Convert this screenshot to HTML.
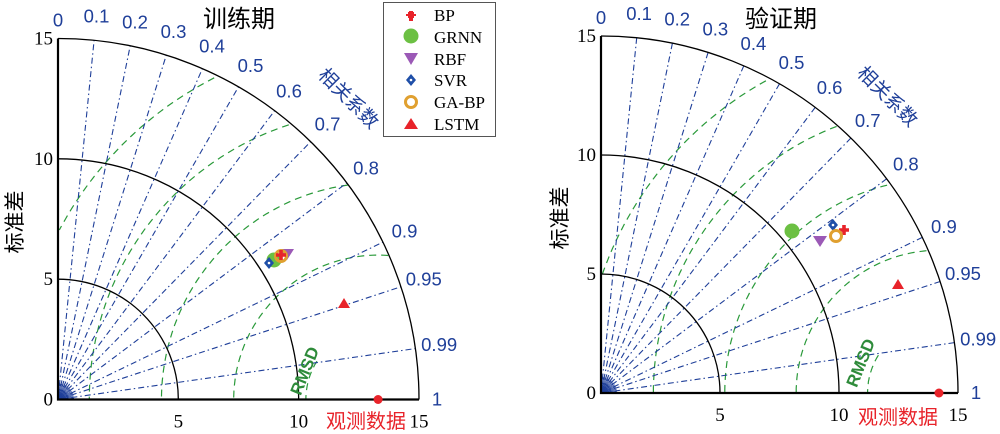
<!DOCTYPE html>
<html><head><meta charset="utf-8">
<style>
html,body{margin:0;padding:0;background:#fff;}
svg{display:block;}
text{font-family:"Liberation Serif","Noto Serif CJK SC",serif;}
.cl{font-family:"Liberation Sans",sans-serif;fill:#1f3f99;font-size:18.5px;}
.cj{font-family:"Liberation Sans","Noto Sans CJK SC",sans-serif;}
.rm{font-family:"Liberation Sans",sans-serif;font-weight:bold;fill:#2e8b3a;font-size:17px;}
</style></head>
<body>
<svg id="s" width="1000" height="434" viewBox="0 0 1000 434" xmlns="http://www.w3.org/2000/svg">
<rect width="1000" height="434" fill="#fff"/>
<g id="g"></g>
<!-- legend -->
<rect x="383.5" y="2.5" width="112" height="134" fill="#fff" stroke="#555" stroke-width="1"/>
<g font-size="17" fill="#000">
<text x="434" y="21">BP</text>
<text x="434" y="43">GRNN</text>
<text x="434" y="65">RBF</text>
<text x="434" y="86">SVR</text>
<text x="434" y="108">GA-BP</text>
<text x="434" y="130">LSTM</text>
</g>
<path d="M408 12h6v6h-6z M406 14h10v2h-10z M409 11h4v10h-4z" fill="#e8232a"/>
<circle cx="411" cy="36" r="7.5" fill="#6cc043"/>
<path d="M404 53h14l-7 12z" fill="#9b59b6"/>
<path d="M411 74l5 6-5 6-5-6z" fill="#1f4fa8"/><circle cx="411" cy="80" r="1.3" fill="#fff"/>
<circle cx="411" cy="102" r="5.5" fill="none" stroke="#e0a030" stroke-width="3"/>
<path d="M411 118l7 11h-14z" fill="#e8232a"/>
<!-- titles -->
<text x="239" y="27" font-size="24" text-anchor="middle" class="cj">训练期</text>
<text x="781" y="27" font-size="24" text-anchor="middle" class="cj">验证期</text>
<text class="cj" font-size="21" transform="translate(22,222) rotate(-90)" text-anchor="middle">标准差</text>
<text class="cj" font-size="21" transform="translate(567,218) rotate(-90)" text-anchor="middle">标准差</text>
<text class="cj" font-size="19" fill="#1f3f99" transform="translate(344,103) rotate(45)" text-anchor="middle">相关系数</text>
<text class="cj" font-size="19" fill="#1f3f99" transform="translate(883,101) rotate(45)" text-anchor="middle">相关系数</text>
<text class="cj" font-size="20" fill="#e8232a" x="326" y="428">观测数据</text>
<text class="cj" font-size="20" fill="#e8232a" x="858" y="424">观测数据</text>
<text class="rm" transform="translate(310,373) rotate(-68)" text-anchor="middle">RMSD</text>
<text class="rm" transform="translate(866,365) rotate(-68)" text-anchor="middle">RMSD</text>
</svg>
<script>
(function(){
var NS="http://www.w3.org/2000/svg",G=document.getElementById('g');
function el(t,a,txt){var e=document.createElementNS(NS,t);for(var k in a)e.setAttribute(k,a[k]);if(txt!=null)e.textContent=txt;G.appendChild(e);return e;}
function chart(ox,oy,R,obs,pts,lstm){
 var s=R/15;
 var ox2=ox+obs*s;
 [3,6,9,12,15].forEach(function(r){
  var rp=r*s,d="",first=true;
  var a0=(r==3)?148:0;
  for(var a=a0;a<=180;a+=1){
   var x=ox2+rp*Math.cos(a*Math.PI/180),y=oy-rp*Math.sin(a*Math.PI/180);
   var dx=x-ox,dy=oy-y;
   if(dx<0||Math.hypot(dx,dy)>R){first=true;continue;}
   d+=(first?"M":"L")+x.toFixed(1)+" "+y.toFixed(1)+" ";first=false;
  }
  el('path',{d:d,fill:'none',stroke:'#2a9a3a','stroke-width':1.2,'stroke-dasharray':'7,5'});
 });
 var cs=[0.1,0.2,0.3,0.4,0.5,0.6,0.7,0.8,0.9,0.95,0.99];
 cs.forEach(function(c){var t=Math.acos(c);
  el('line',{x1:ox,y1:oy,x2:ox+R*Math.cos(t),y2:oy-R*Math.sin(t),stroke:'#1f3f99','stroke-width':1.1,'stroke-dasharray':'6,3,1.5,3'});});
 for(var k=0;k<20;k++){var t=k*Math.PI/40;el('line',{x1:ox,y1:oy,x2:ox+16*Math.cos(t),y2:oy-16*Math.sin(t),stroke:'#1f3f99','stroke-width':0.7});}
 [3,5,7].forEach(function(r){el('path',{d:"M"+(ox+r)+" "+oy+" A"+r+" "+r+" 0 0 0 "+ox+" "+(oy-r),fill:'none',stroke:'#1f3f99','stroke-width':1});});
 var lab=["0","0.1","0.2","0.3","0.4","0.5","0.6","0.7","0.8","0.9","0.95","0.99","1"],vals=[0,.1,.2,.3,.4,.5,.6,.7,.8,.9,.95,.99,1];
 vals.forEach(function(c,i){var t=Math.acos(c),rr=R+18+(i>0&&i<12?6:0);
  var x=ox+rr*Math.cos(t),y=oy-rr*Math.sin(t)+6;
  el('text',{x:x,y:y,'class':'cl','text-anchor':'middle'},lab[i]);});
 [5,10,15].forEach(function(v){var r=v*s;el('path',{d:"M"+ox+" "+(oy-r)+" A"+r+" "+r+" 0 0 1 "+(ox+r)+" "+oy,fill:'none',stroke:'#000','stroke-width':1.3});});
 el('path',{d:"M"+ox+" "+(oy-R)+"V"+oy+"H"+(ox+R),fill:'none',stroke:'#000','stroke-width':2.2});
 [0,5,10,15].forEach(function(v){
  el('text',{x:ox-5,y:oy-v*s+6,'text-anchor':'end','font-size':19},String(v));
  if(v>0)el('text',{x:ox+v*s,y:oy+28,'text-anchor':'middle','font-size':19},String(v));});
 el('circle',{cx:ox2,cy:oy,r:4.5,fill:'#e8232a'});
 pts();
 el('path',{d:"M"+lstm[0]+" "+(lstm[1]-6)+"l6 10h-12z",fill:'#e8232a'});
}
function diamond(x,y){el('path',{d:"M"+x+" "+(y-6)+"l5 6-5 6-5-6z",fill:'#1f4fa8'});el('circle',{cx:x,cy:y,r:1.3,fill:'#fff'});}
function tri(x,y){el('path',{d:"M"+(x-7)+" "+(y-5)+"h14l-7 11z",fill:'#9b59b6'});}
function ring(x,y){el('circle',{cx:x,cy:y,r:5.5,fill:'none',stroke:'#e0a030','stroke-width':3});}
function plus(x,y){el('path',{d:"M"+(x-1.8)+" "+(y-5)+"h3.6v3.2h3.2v3.6h-3.2v3.2h-3.6v-3.2h-3.2v-3.6h3.2z",fill:'#e8232a'});}
function dot(x,y){el('circle',{cx:x,cy:y,r:7.5,fill:'#6cc043'});}
chart(58,399.5,361,13.3,function(){tri(287,254);dot(274,260);diamond(269,263);ring(281,256);plus(281,255);},[344,304]);
chart(601,393,357,14.2,function(){dot(792,231);tri(820,241);diamond(833,225);plus(844,230);ring(836,236);},[898,285]);
})();
</script>
</body></html>
